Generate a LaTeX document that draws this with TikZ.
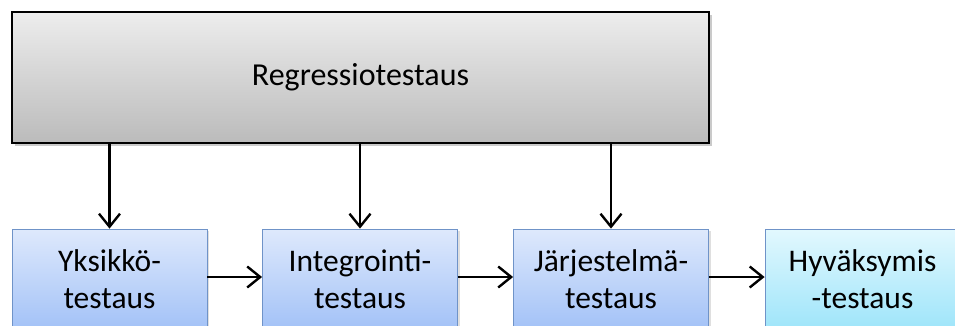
\documentclass[tikz,border=0pt]{standalone}
\usepackage{fontspec}
\setmainfont{Carlito}
\usetikzlibrary{arrows.meta,shadows}
\definecolor{stageTop}{HTML}{DEE9FC}
\definecolor{stageBot}{HTML}{A3C2F7}
\definecolor{stageLine}{HTML}{6F93C8}
\definecolor{accTop}{HTML}{E2F8FE}
\definecolor{accBot}{HTML}{9FE5FA}
\definecolor{regTop}{HTML}{EDEDED}
\definecolor{regBot}{HTML}{BBBBBB}
\tikzset{
  regbox/.style={draw=black, line width=2.6pt, top color=regTop, bottom color=regBot,
    minimum width=697pt, minimum height=131pt, inner sep=0pt,
    drop shadow={shadow xshift=3pt, shadow yshift=-3pt, opacity=0.35, fill=black!60}},
  stagebox/.style={draw=stageLine, line width=0.8pt, top color=stageTop, bottom color=stageBot,
    minimum width=195pt, minimum height=100pt, inner sep=0pt, align=center,
    font=\fontsize{31.5}{37}\selectfont,
    drop shadow={shadow xshift=2pt, shadow yshift=-2pt, opacity=0.25, fill=black!50}},
  accbox/.style={stagebox, top color=accTop, bottom color=accBot},
  flow/.style={line width=2.8pt, -{Straight Barb[length=13pt, width=21pt, line width=2.4pt]}}
}
\begin{document}
\begin{tikzpicture}[x=1pt, y=-1pt]
  \useasboundingbox (0,0) rectangle (955,325);
  \clip (0,0) rectangle (955,325);
  % regression testing spans the first three levels
  \node[regbox, font=\fontsize{32}{38}\selectfont] (reg) at (360.5,77.5) {Regressiotestaus};
  % test levels
  \node[stagebox] (unit)   at (109.5,279) {Yksikkö-\\testaus};
  \node[stagebox] (integ)  at (360,279)   {Integrointi-\\testaus};
  \node[stagebox] (system) at (611,279)   {Järjestelmä-\\testaus};
  \node[accbox]   (accept) at (862.5,279) {Hyväksymis\\-testaus};
  % regression feeds each level
  \draw[flow] (reg.south -| unit.north) -- (unit.north);
  \draw[flow] (reg.south -| integ.north) -- (integ.north);
  \draw[flow] (reg.south -| system.north) -- (system.north);
  % level progression
  \draw[flow] ([yshift=2pt]unit.east) -- ([yshift=2pt]integ.west);
  \draw[flow] ([yshift=2pt]integ.east) -- ([yshift=2pt]system.west);
  \draw[flow] ([yshift=2pt]system.east) -- ([yshift=2pt]accept.west);
\end{tikzpicture}
\end{document}
